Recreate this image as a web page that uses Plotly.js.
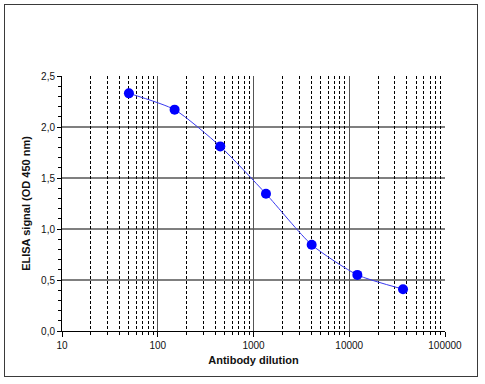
<!DOCTYPE html>
<html>
<head>
<meta charset="utf-8">
<script src="https://cdn.plot.ly/plotly-3.0.1.min.js"></script>
<style>
html,body{margin:0;padding:0;background:#fff;}
#wrap{position:relative;width:485px;height:384px;}
#chart{width:485px;height:384px;}
#frame{position:absolute;left:4px;top:4px;width:474px;height:373px;border:1.5px solid #3a3a3a;pointer-events:none;box-sizing:border-box;}
</style>
</head>
<body>
<div id="wrap"><div id="chart"></div><div id="frame"></div></div>
<script>
const dilution = [50, 150, 450, 1350, 4050, 12150, 36450];
const signal = [2.33, 2.17, 1.81, 1.345, 0.845, 0.55, 0.41];
const yTickVals = [0, 0.5, 1.0, 1.5, 2.0, 2.5];
const yGridVals = [0.5, 1.0, 1.5, 2.0];
const xTitle = 'Antibody dilution';
const yTitle = 'ELISA signal (OD 450 nm)';

const trace = {
  x: dilution, y: signal, type: 'scatter', mode: 'lines+markers',
  line: {color: '#3a3af0', width: 1, shape: 'spline', smoothing: 0.6},
  marker: {color: '#0000ff', size: 10},
  hoverinfo: 'none'
};

const shapes = yGridVals.map(v => ({
  type: 'line', xref: 'paper', yref: 'y', x0: 0, x1: 1, y0: v, y1: v,
  line: {color: '#000', width: 1.2}, layer: 'below'
}));

const layout = {
  width: 485, height: 384,
  margin: {l: 62, r: 40, t: 76, b: 53},
  paper_bgcolor: '#fff', plot_bgcolor: '#fff',
  separators: ', ',
  showlegend: false,
  font: {family: 'Liberation Sans, Arial, sans-serif', size: 10, color: '#111'},
  xaxis: {
    type: 'log', range: [1, 5], dtick: 1, tickformat: 'd',
    showgrid: true, gridcolor: '#555', gridwidth: 1,
    showline: true, linecolor: '#000', linewidth: 1,
    ticks: 'outside', ticklen: 5, tickcolor: '#000',
    minor: {dtick: 'D1', showgrid: true, gridcolor: '#000', griddash: '3px,2px', gridwidth: 1, ticks: 'outside', ticklen: 3, tickcolor: '#000'},
    zeroline: false,
    tickfont: {size: 10, color: '#111'},
    title: {text: '<b>' + xTitle + '</b>', font: {size: 11, color: '#111'}, standoff: 6}
  },
  yaxis: {
    range: [0, 2.5], tickvals: yTickVals, tickformat: '.1f',
    showgrid: false,
    showline: true, linecolor: '#000', linewidth: 1,
    ticks: 'outside', ticklen: 4, tickcolor: '#000',
    minor: {dtick: 0.1, ticks: 'outside', ticklen: 3, tickcolor: '#000', showgrid: false},
    zeroline: false,
    tickfont: {size: 10, color: '#111'},
    title: {text: '<b>' + yTitle + '</b>', font: {size: 11, color: '#111'}, standoff: 8}
  },
  shapes: shapes
};

Plotly.newPlot('chart', [trace], layout, {staticPlot: true, displayModeBar: false});
</script>
</body>
</html>
